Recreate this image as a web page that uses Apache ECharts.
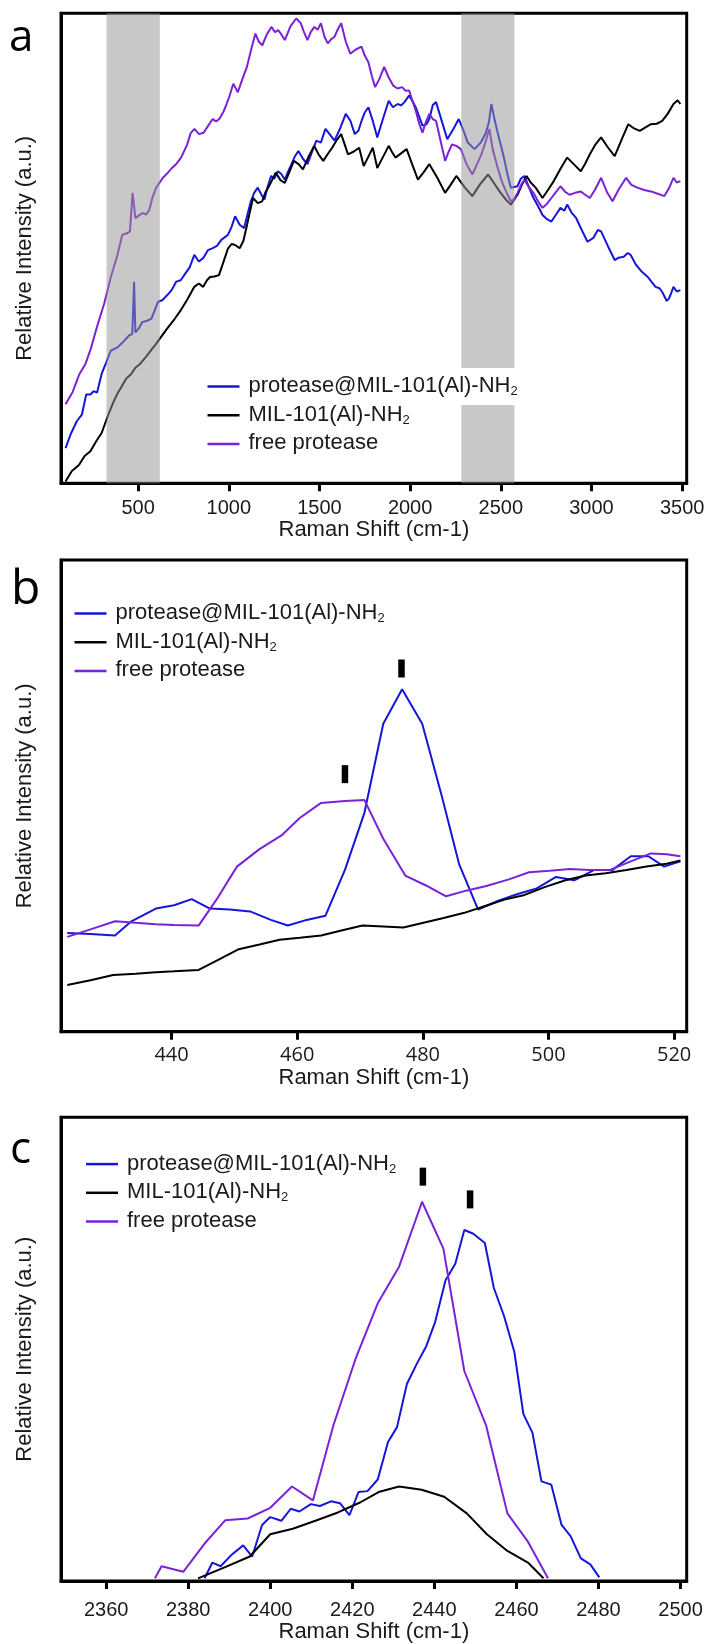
<!DOCTYPE html>
<html>
<head>
<meta charset="utf-8">
<script src="https://cdn.jsdelivr.net/npm/echarts@6/dist/echarts.min.js"></script>
<style>
html,body{margin:0;padding:0;background:#fff;}
#chart{width:708px;height:1644px;}
</style>
</head>
<body>
<div id="chart"></div>
<script>
// ---------- DATA ----------
const seriesNames = ['protease@MIL-101(Al)-NH2', 'MIL-101(Al)-NH2', 'free protease'];

// Panel a : full spectra [Raman shift, relative intensity]
const aBlue = [[100,7.5],[130,10.6],[162,13.2],[190,14.6],[214,18.9],[237,18.9],[255,19.6],[274,19.3],[300,23.4],[324,25.7],[349,28.2],[386,28.9],[420,30.2],[449,31.4],[468,31.8],[478,42.9],[485,32.1],[505,33.0],[523,34.3],[550,34.6],[573,35],[610,38.6],[635,39.0],[660,40],[685,41.1],[710,42.9],[735,43.2],[760,44.6],[785,46.0],[810,48.6],[835,47.2],[859,47.9],[885,49.6],[909,50],[935,50.5],[959,51.8],[996,52.9],[1015,54.5],[1035,56.8],[1060,55.0],[1085,54.3],[1105,57.5],[1122,60],[1140,61.8],[1160,62.9],[1180,61.4],[1197,60.4],[1215,63.2],[1234,65.4],[1250,64.8],[1271,66.4],[1290,65.8],[1309,64.6],[1328,66.4],[1346,67.9],[1365,69.6],[1384,70.7],[1410,69.0],[1434,67.9],[1458,70.4],[1483,72.9],[1508,72.5],[1533,75.4],[1558,74.2],[1583,72.9],[1615,75.6],[1645,78.6],[1670,77.2],[1695,74.3],[1715,75.0],[1732,77.1],[1750,78.9],[1770,80],[1795,77.0],[1819,73.6],[1850,77.5],[1882,81.4],[1905,80.0],[1931,80.7],[1950,80.4],[1969,81.1],[1994,82.5],[2010,81.5],[2031,80],[2050,78.0],[2068,76.1],[2090,76.4],[2106,77.5],[2125,80.5],[2143,81.1],[2175,77.0],[2205,73.2],[2240,75.5],[2268,77.5],[2295,75.0],[2318,72.5],[2355,71.1],[2390,72.5],[2418,74.6],[2435,77.0],[2448,80.7],[2465,77.5],[2480,75],[2500,72.0],[2517,69.3],[2535,66.0],[2555,62.9],[2592,63.2],[2610,64.8],[2630,65.4],[2655,63.0],[2680,60.7],[2705,59.0],[2730,57.1],[2755,56.2],[2779,55.7],[2805,57.2],[2829,58.6],[2850,58.0],[2866,59.3],[2890,57.6],[2916,56.4],[2945,54.0],[2978,51.4],[3010,52.2],[3035,53.9],[3053,53.6],[3090,50.5],[3128,47.5],[3150,48.0],[3178,48.2],[3200,49.0],[3216,48.6],[3245,46.5],[3278,45],[3310,43.9],[3353,41.8],[3375,41.5],[3390,40.7],[3415,38.8],[3427,39.3],[3440,40.5],[3452,41.8],[3470,40.8],[3490,41.1]];
const aBlack = [[100,0.4],[135,2.6],[174,3.9],[205,5.8],[237,6.8],[270,9.0],[299,10.7],[330,14.0],[362,17.1],[385,19.0],[411,20.7],[435,22.3],[461,23.2],[485,24.6],[511,25.4],[548,27.1],[575,28.5],[598,29.6],[630,31.3],[660,32.9],[700,34.9],[735,36.8],[770,39.0],[810,41.8],[835,42.5],[859,41.8],[880,43.2],[897,43.9],[920,44.0],[946,44.3],[970,47.0],[996,50],[1015,50.9],[1035,50.7],[1060,50],[1080,51.5],[1097,54.3],[1115,57.5],[1134,60.7],[1160,59.6],[1184,60],[1203,62.0],[1222,63.2],[1240,64.6],[1259,66.1],[1285,64.5],[1309,63.9],[1335,66.3],[1359,68.6],[1385,67.9],[1409,66.8],[1440,69.5],[1471,71.8],[1495,70.0],[1521,68.6],[1545,70.0],[1570,71.4],[1595,73.0],[1620,74.3],[1640,72.0],[1657,70],[1690,70.6],[1719,71.4],[1744,67.5],[1770,69.5],[1794,71.4],[1819,67.1],[1850,69.4],[1882,71.8],[1900,70.5],[1919,69.3],[1950,70.2],[1981,71.1],[2010,68.0],[2043,64.6],[2075,66.2],[2106,67.9],[2150,65.0],[2193,61.8],[2225,63.6],[2255,65.4],[2300,63.0],[2343,61.1],[2385,63.6],[2430,65.7],[2460,64.0],[2493,62.1],[2525,60.5],[2555,59.3],[2592,61.4],[2620,63.8],[2642,65.4],[2665,64.0],[2692,62.9],[2730,60.7],[2760,62.4],[2792,64.3],[2830,67.0],[2866,69.3],[2905,67.8],[2941,66.4],[2965,68.0],[2991,70],[3020,72.0],[3053,73.6],[3090,71.5],[3128,69.6],[3165,73.0],[3203,76.4],[3235,75.5],[3266,75],[3300,75.8],[3328,76.4],[3360,76.5],[3390,77.1],[3420,78.6],[3452,80.7],[3475,81.5],[3490,80.7]];
const aPurple = [[100,16.8],[140,19.5],[176,23.2],[210,25.4],[239,28.6],[275,33.5],[313,38.2],[350,43.9],[385,48.4],[413,52.9],[440,53.2],[455,53.6],[470,61.8],[485,56.4],[505,57.0],[525,57.5],[545,57.2],[562,58.2],[580,60.9],[600,62.9],[637,65],[662,66.0],[687,67.1],[712,68.0],[737,69.3],[770,72.0],[790,74.5],[811,75.4],[836,74.3],[861,74.6],[885,76.0],[911,77.5],[930,77.0],[948,77.5],[970,79.0],[988,80.7],[1005,82.5],[1025,85],[1050,83.2],[1075,86.0],[1100,88.6],[1125,92.5],[1147,95.7],[1165,94.0],[1185,93.2],[1210,95.5],[1235,97.1],[1255,96.0],[1272,96.4],[1290,95.5],[1309,94.3],[1340,97.2],[1372,98.9],[1397,97.9],[1415,96.0],[1434,94.3],[1452,96.0],[1472,97.1],[1490,96.5],[1508,97.9],[1528,95.0],[1546,93.6],[1565,94.5],[1583,95],[1600,96.5],[1620,97.9],[1645,94.0],[1670,91.4],[1700,92.3],[1732,92.9],[1750,91.0],[1770,89.6],[1790,86.5],[1807,84.3],[1830,86.0],[1857,88.6],[1880,86.5],[1907,84.6],[1930,84.0],[1956,84.3],[1975,83.5],[1994,83.6],[2012,81.5],[2031,79.3],[2050,76.5],[2068,74.6],[2088,77.0],[2106,78.6],[2125,77.5],[2143,77.1],[2170,72.5],[2193,68.6],[2212,70.5],[2231,72.1],[2255,71.8],[2280,71.1],[2310,68.0],[2343,65.7],[2370,68.0],[2393,70],[2415,72.5],[2437,75.4],[2455,71.1],[2480,67.5],[2505,64.3],[2530,62.0],[2555,60],[2575,60.5],[2592,61.8],[2612,63.5],[2630,64.6],[2655,63.0],[2680,61.8],[2705,60.0],[2730,58.6],[2755,59.5],[2779,60.7],[2805,62.0],[2829,63.2],[2855,62.0],[2879,61.4],[2910,61.8],[2941,62.1],[2965,61.4],[2991,60.7],[3020,62.5],[3053,65],[3085,62.0],[3116,60],[3150,62.5],[3191,65],[3220,63.5],[3253,62.9],[3290,62.4],[3328,62.1],[3365,61.6],[3402,61.1],[3430,63.0],[3452,65],[3470,64.0],[3490,64.3]];
const aBands = [[326, 620], [2282, 2575]];
const aTicks = [500, 1000, 1500, 2000, 2500, 3000, 3500];

// Panel b : 420-520 cm-1 zoom
const bBlue = [[423.4,20.9],[427.1,20.7],[431.0,20.4],[433.6,23.4],[437.5,26.1],[440.4,26.8],[443.2,28.1],[446.1,26.1],[449.3,25.9],[452.5,25.5],[455.8,23.7],[458.5,22.5],[461.5,23.7],[464.5,24.6],[467.6,34.3],[470.7,46.4],[473.7,65.3],[476.7,72.6],[479.9,65.3],[483.0,50],[485.8,35.4],[488.8,25.9],[491.9,27.7],[495.1,29.2],[498.0,30.3],[501.2,32.8],[504.1,32.1],[507.3,34.3],[510.2,34.3],[513.1,37.2],[515.9,37.2],[518.4,35],[521.0,36.1]];
const bBlack = [[423.4,9.9],[427.1,10.9],[430.7,12],[434.3,12.3],[437.5,12.6],[440.4,12.8],[444.3,13.1],[447.5,15.3],[450.7,17.5],[454.0,18.5],[457.2,19.5],[460.4,19.9],[463.8,20.4],[467.2,21.5],[470.4,22.5],[473.7,22.3],[476.9,22.1],[480.1,23.1],[483.3,24.1],[486.6,25.2],[489.8,26.6],[493.0,28],[496.2,29],[499.5,30.7],[502.7,32.1],[505.9,33.1],[509.1,33.6],[512.4,34.3],[515.6,35],[518.8,35.6],[521.0,36.3]];
const bPurple = [[423.4,20.1],[427.1,21.7],[431.0,23.4],[437.5,22.8],[440.4,22.6],[444.3,22.5],[447.2,28.1],[450.4,35],[454.0,38.7],[457.5,41.6],[460.4,45.3],[463.8,48.5],[467.6,48.9],[470.7,49.1],[473.7,40.9],[477.2,33.1],[480.5,31],[483.7,28.7],[486.9,29.9],[490.1,30.9],[493.7,32.3],[496.9,33.8],[500.2,34.1],[503.4,34.5],[506.6,34.3],[509.8,34.3],[513.1,36.1],[516.3,37.8],[518.8,37.6],[521.0,37.2]];
const bMarks = [[467.6, 54.6], [476.6, 77.0]];
const bTicks = [440, 460, 480, 500, 520];

// Panel c : 2350-2500 cm-1 zoom
const cBlue = [[2384,0.6],[2385.9,4],[2387.9,3.2],[2390.6,5.7],[2393.4,7.7],[2395.6,5.3],[2398,12.1],[2400,13.8],[2402.7,13],[2405,15.6],[2407.1,15],[2409.9,16.6],[2412.1,16.2],[2414.8,17.2],[2417.0,16.8],[2419.3,14.2],[2421.5,19.2],[2423.7,19.4],[2426.2,21.9],[2428.7,30],[2430.9,33.2],[2433.3,42.5],[2435.8,47],[2438.0,50.6],[2440.2,55.9],[2442.7,64.8],[2445.1,68.4],[2447.3,75.7],[2449.5,74.9],[2452.3,72.9],[2454.5,63.2],[2457.0,57.1],[2459.5,49.4],[2461.7,36],[2463.9,32],[2466.1,21.5],[2468.5,20.8],[2471.0,12.1],[2473.2,9.7],[2475.7,4.9],[2478.0,3.6],[2480.2,0.8]];
const cBlack = [[2382.4,0.6],[2389,3],[2395,5.3],[2400,10.1],[2405.5,11.3],[2411,13],[2416.5,14.8],[2422,17],[2426.4,19.2],[2431.4,20.4],[2436.9,19.7],[2442.4,18.2],[2447.9,14.6],[2452.8,10.1],[2457.8,6.5],[2462.8,4],[2466.6,0.6]];
const cPurple = [[2371.9,0.6],[2373.5,3.2],[2378.8,2],[2384,8.1],[2389,13.1],[2394.5,13.5],[2400,15.8],[2405.3,20.4],[2410.4,17.4],[2415.4,33.6],[2420.9,48.2],[2426.2,59.9],[2431.4,67.8],[2437.0,81.8],[2442.2,71.7],[2447.3,45.3],[2452.6,33.6],[2457.8,14.6],[2462.8,8.5],[2467.7,0.6]];
const cMarks = [[2437.2, 87.2], [2448.7, 82.3]];
const cTicks = [2360, 2380, 2400, 2420, 2440, 2460, 2480, 2500];

// ---------- STYLE ----------
const COLORS = ['#1616d9', '#000000', '#7a22d8'];
const TXT = '#1a1a1a';
const SANS = '"Liberation Sans", Arial, sans-serif';
const OPEN = '"Open Sans", sans-serif';

const grids = [
  {left: 61, top: 13.3, width: 625.7, height: 470},
  {left: 61, top: 560, width: 625.7, height: 471.7},
  {left: 61, top: 1117.3, width: 625.7, height: 466.3}
].map(g => Object.assign({show: true, borderColor: '#000', borderWidth: 3, backgroundColor: 'transparent'}, g));

function xAxis(i, min, max, ticks, margin, gap, font) {
  return {
    gridIndex: i, type: 'value', min: min, max: max,
    axisLine: {show: true, onZero: false, lineStyle: {color: '#000', width: 3}},
    axisTick: {show: true, length: 8, customValues: ticks, lineStyle: {color: '#000', width: 3}},
    axisLabel: {show: true, customValues: ticks, fontSize: 20, fontFamily: font, color: TXT, margin: margin,
      formatter: v => String(v)},
    splitLine: {show: false},
    name: 'Raman Shift (cm-1)', nameLocation: 'middle', nameGap: gap,
    nameTextStyle: {fontSize: 22, fontFamily: SANS, color: TXT}
  };
}
function yAxis(i) {
  return {
    gridIndex: i, type: 'value', min: 0, max: 100,
    axisLine: {show: true, onZero: false, lineStyle: {color: '#000', width: 3}},
    axisTick: {show: false}, axisLabel: {show: false}, splitLine: {show: false},
    name: 'Relative Intensity (a.u.)', nameLocation: 'middle', nameGap: 25, nameRotate: 90,
    nameTextStyle: {fontSize: 22, fontFamily: SANS, color: TXT}
  };
}

function lineSeries(name, data, i, color) {
  return {
    name: name, type: 'line', xAxisIndex: i, yAxisIndex: i, data: data,
    showSymbol: false, symbol: 'none', smooth: false, z: 2,
    lineStyle: {color: color, width: 2}, itemStyle: {color: color}
  };
}
function markSeries(data, i) {
  return {
    name: 'marks' + i, type: 'scatter', xAxisIndex: i, yAxisIndex: i, data: data,
    symbol: 'rect', symbolSize: [6.5, 18], itemStyle: {color: '#000', opacity: 1}, z: 5, silent: true
  };
}

const legendFmt = n => n.replace(/NH2$/, 'NH{s|2}');
const legRich = {s: {fontSize: 13, fontFamily: SANS, color: TXT, verticalAlign: 'bottom', lineHeight: 24, padding: [10, 0, 0, 0]}};
function legend(left, top, whiteFirst) {
  return {
    orient: 'vertical', left: left, top: top, padding: 0,
    itemWidth: 32, itemHeight: 2.5, itemGap: -8.3, icon: 'rect', selectedMode: false,
    formatter: legendFmt,
    textStyle: {fontSize: 22, fontFamily: SANS, color: TXT, lineHeight: 24, padding: [6, 0, 7, 4], rich: legRich},
    data: seriesNames.map((n, k) => (k === 0 && whiteFirst)
      ? {name: n, textStyle: {backgroundColor: '#fff'}}
      : {name: n})
  };
}

const option = {
  animation: false,
  backgroundColor: '#fff',
  grid: grids,
  xAxis: [
    xAxis(0, 75, 3525, aTicks, 15, 35, SANS),
    xAxis(1, 422.4, 522, bTicks, 14, 33, OPEN),
    xAxis(2, 2349, 2501.5, cTicks, 19, 38, SANS)
  ],
  yAxis: [yAxis(0), yAxis(1), yAxis(2)],
  legend: [legend(207.5, 368, true), legend(74.5, 595, false), legend(86, 1145.6, false)],
  graphic: [
    {type: 'text', left: 9, top: 16, style: {text: 'a', font: '44px "Open Sans"', fill: '#000'}},
    {type: 'text', left: 11, top: 566, style: {text: 'b', font: '48px "Open Sans"', fill: '#000'}},
    {type: 'text', left: 10, top: 1128, style: {text: 'c', font: '44px "Open Sans"', fill: '#000'}}
  ],
  series: [
    {
      name: 'bands', type: 'custom', xAxisIndex: 0, yAxisIndex: 0, z: 3, silent: true,
      data: aBands, encode: {x: [0, 1]},
      renderItem: function (params, api) {
        const p0 = api.coord([api.value(0), 100]);
        const p1 = api.coord([api.value(1), 0]);
        return {type: 'rect', shape: {x: p0[0], y: p0[1], width: p1[0] - p0[0], height: p1[1] - p0[1]},
          style: {fill: 'rgba(150,150,150,0.52)'}};
      }
    },
    lineSeries(seriesNames[0], aBlue, 0, COLORS[0]),
    lineSeries(seriesNames[1], aBlack, 0, COLORS[1]),
    lineSeries(seriesNames[2], aPurple, 0, COLORS[2]),
    lineSeries(seriesNames[0], bBlue, 1, COLORS[0]),
    lineSeries(seriesNames[1], bBlack, 1, COLORS[1]),
    lineSeries(seriesNames[2], bPurple, 1, COLORS[2]),
    markSeries(bMarks, 1),
    lineSeries(seriesNames[0], cBlue, 2, COLORS[0]),
    lineSeries(seriesNames[1], cBlack, 2, COLORS[1]),
    lineSeries(seriesNames[2], cPurple, 2, COLORS[2]),
    markSeries(cMarks, 2)
  ]
};

const chart = echarts.init(document.getElementById('chart'), null, {renderer: 'canvas'});
chart.setOption(option);
</script>
</body>
</html>
